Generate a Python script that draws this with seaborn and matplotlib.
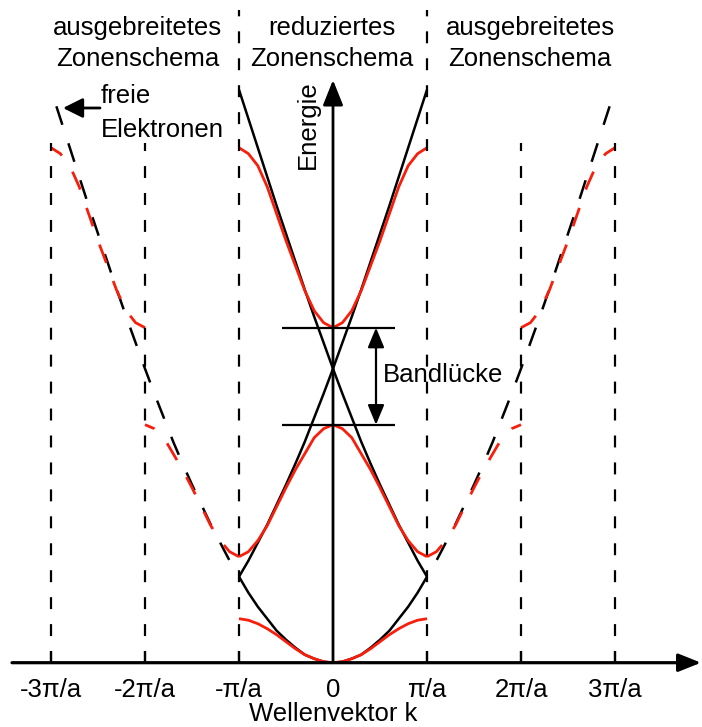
import numpy as np
import matplotlib
matplotlib.use("Agg")
import matplotlib.pyplot as plt
import seaborn as sns

# ---------------- data ----------------
# wave vector grid inside the first Brillouin zone (units of pi/a)
k_band = [0.0, 0.1, 0.2, 0.3, 0.4, 0.5, 0.6, 0.7, 0.8, 0.9, 1.0]
# bands (energy, arbitrary units) in the reduced zone, |k| = 0 .. pi/a
band1 = [0, 1, 4, 8, 14, 21, 28, 34, 39, 42.5, 44]
band2 = [238, 234, 225, 209, 193, 175, 156, 137, 122, 111, 106]
band3 = [335, 340, 352, 372, 397, 422, 449, 476, 497, 509, 515]
# free electron dispersion, |k| = 0 .. 3 pi/a
k_free = [0.0, 0.1, 0.2, 0.3, 0.4, 0.5, 0.6, 0.7, 0.8, 0.9, 1.0,
          1.1, 1.2, 1.3, 1.4, 1.5, 1.6, 1.7, 1.8, 1.9, 2.0,
          2.1, 2.2, 2.3, 2.4, 2.5, 2.6, 2.7, 2.8, 2.9, 3.0]
E_free = [0, 1, 4, 8, 15, 23, 32, 44, 56, 70, 86,
          102, 120, 138, 158, 178, 199, 221, 245, 269, 294,
          320, 346, 373, 401, 429, 457, 486, 515, 544, 573]
tick_pos = [-3, -2, -1, 0, 1, 2, 3]
tick_labels = ["-3π/a", "-2π/a", "-π/a", "0", "π/a", "2π/a", "3π/a"]
inner_bounds = [-1, 1]
outer_bounds = [-3, -2, 2, 3]

# ---------------- style ----------------
sns.set_theme(style="white")
plt.rcParams["font.family"] = ["Liberation Sans", "DejaVu Sans"]
plt.rcParams["text.color"] = "black"
plt.rcParams["lines.scale_dashes"] = False
plt.rcParams["lines.solid_capstyle"] = "butt"
plt.rcParams["lines.dash_capstyle"] = "butt"

RED = "#f81e0c"
FS = 18.5
LWK = 1.8
LWR = 2.0

# pixel layout helpers (layout only)
X0, SX, Y0 = 333.0, 94.0, 662.7
def P(x, y):
    return ((x - X0) / SX, Y0 - y)

fig = plt.figure(figsize=(7.02, 7.27), dpi=100)
ax = fig.add_axes([0, 0, 1, 1])
ax.set_xlim(P(0, 0)[0], P(702, 0)[0])
ax.set_ylim(P(0, 727)[1], P(0, 0)[1])
ax.axis("off")

kb = np.array(k_band)
kf = np.array(k_free)
Ef = np.array(E_free)
b1, b2, b3 = np.array(band1), np.array(band2), np.array(band3)
i1 = k_free.index(1.0)

def line(x, y, **kw):
    sns.lineplot(x=np.asarray(x, float), y=np.asarray(y, float), sort=False,
                 estimator=None, ax=ax, **kw)

# ----- reduced zone: free electron parabolas (black, solid) -----
line(np.r_[-kf[:i1 + 1][::-1], kf[1:i1 + 1]], np.r_[Ef[:i1 + 1][::-1], Ef[1:i1 + 1]],
     color="black", lw=LWK)
line(kf[i1:] - 2, Ef[i1:], color="black", lw=LWK)
line(2 - kf[i1:], Ef[i1:], color="black", lw=LWK)

# ----- extended zone: free electron (black, dashed) -----
dash_k = (14.0, (14.0, 14.0))
line(kf[i1:], Ef[i1:], color="black", lw=LWK, linestyle=dash_k)
line(-kf[i1:], Ef[i1:], color="black", lw=LWK, linestyle=dash_k)

# ----- reduced zone bands (red, solid) -----
for b in (b1, b2, b3):
    line(np.r_[-kb[::-1], kb[1:]], np.r_[b[::-1], b[1:]], color=RED, lw=LWR)

# ----- extended zone bands (red, dashed) -----
dash_r = (0.0, (14.0, 14.0))
for s in (1, -1):
    line(s * (2 - kb[::-1]), b2[::-1], color=RED, lw=LWR, linestyle=dash_r)
    line(s * (2 + kb), b3, color=RED, lw=LWR, linestyle=dash_r)

# ----- zone boundaries -----
vdash = (0.0, (8.6, 10.8))
for xb in inner_bounds:
    ax.plot([xb, xb], [0, P(0, 10)[1]], color="black", lw=1.6, linestyle=vdash)
for xb in outer_bounds:
    ax.plot([xb, xb], [0, P(0, 143)[1]], color="black", lw=1.6, linestyle=vdash)

# ----- axes arrows -----
ax.annotate("", xy=P(701, Y0), xytext=P(12, Y0),
            arrowprops=dict(arrowstyle="-|>,head_length=0.55,head_width=0.22",
                            mutation_scale=25, lw=2.3, color="black",
                            shrinkA=0, shrinkB=0))
ax.annotate("", xy=P(X0, 80), xytext=P(X0, Y0),
            arrowprops=dict(arrowstyle="-|>,head_length=0.55,head_width=0.22",
                            mutation_scale=28, lw=2.0, color="black",
                            shrinkA=0, shrinkB=0))
for t in tick_pos:
    if t != 0:
        ax.plot([t, t], [0, 12], color="black", lw=1.6)

# tick labels and axis titles
for t, lab in zip(tick_pos, tick_labels):
    ax.text(t, P(0, 697)[1], lab, ha="center", va="baseline", fontsize=FS)
ax.text(*P(X0, 721), "Wellenvektor k", ha="center", va="baseline", fontsize=FS)
ax.text(*P(308, 125), "Energie", ha="center", va="center", rotation=90, fontsize=FS)

# ----- band gap markers -----
for lev in (b3[0], b2[0]):
    ax.plot([P(282, 0)[0], P(395, 0)[0]], [lev, lev], color="black", lw=1.6)
ax.annotate("", xy=(P(376, 0)[0], b3[0]), xytext=(P(376, 0)[0], b2[0]),
            arrowprops=dict(arrowstyle="<|-|>,head_length=0.6,head_width=0.25",
                            mutation_scale=20, lw=1.6, color="black",
                            shrinkA=0, shrinkB=0))
ax.text(*P(383, 381.5), "Bandlücke", ha="left", va="baseline", fontsize=FS)

# ----- headers -----
for xc, l1 in ((137.5, "ausgebreitetes"), (332, "reduziertes"), (530, "ausgebreitetes")):
    ax.text(*P(xc, 35), l1, ha="center", va="baseline", fontsize=FS)
    ax.text(*P(xc, 66), "Zonenschema", ha="center", va="baseline", fontsize=FS)

# ----- free electron label -----
ax.annotate("", xy=P(63, 108), xytext=P(100, 108),
            arrowprops=dict(arrowstyle="-|>,head_length=0.6,head_width=0.3",
                            mutation_scale=20, lw=2.0, color="black",
                            shrinkA=0, shrinkB=0))
ax.text(*P(101, 103), "freie", ha="left", va="baseline", fontsize=FS)
ax.text(*P(101, 137), "Elektronen", ha="left", va="baseline", fontsize=FS)

fig.savefig("out.png", dpi=100)
